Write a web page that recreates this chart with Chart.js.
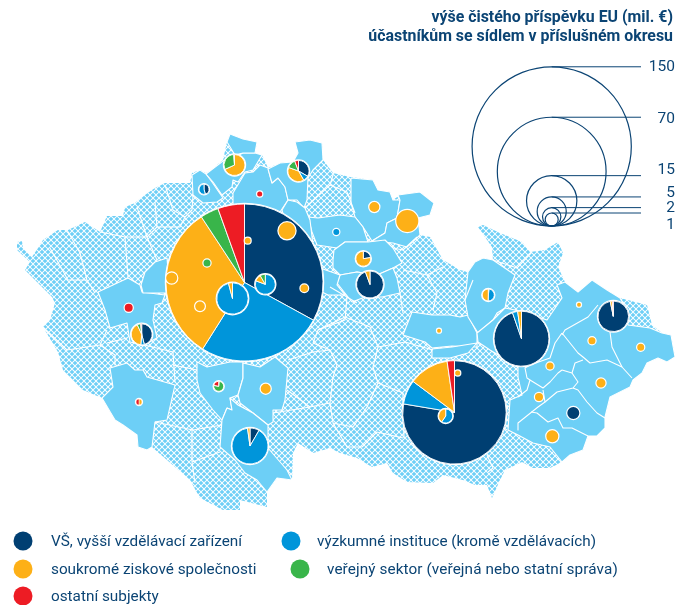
<!DOCTYPE html>
<html lang="cs">
<head>
<meta charset="utf-8">
<style>
html,body{margin:0;padding:0;background:#fff;overflow:hidden}
#wrap{position:relative;width:692px;height:605px;overflow:hidden}
canvas{position:absolute;left:0;top:0}
.t{position:absolute;white-space:nowrap;color:#0b4474;font-family:Roboto,sans-serif;line-height:20px}
.h{font-weight:700;font-size:15.9px;right:19px}
.s{font-size:15.5px;right:17px;text-align:right}
.l{font-size:15.3px}
</style>
</head>
<body>
<div id="wrap">
<canvas id="c" width="692" height="605"></canvas>
<div class="t h" style="top:7px">výše čistého příspěvku EU (mil. €)</div>
<div class="t h" style="top:26px">účastníkům se sídlem v příslušném okresu</div>
<div class="t s" style="top:56px">150</div>
<div class="t s" style="top:108px">70</div>
<div class="t s" style="top:159px">15</div>
<div class="t s" style="top:182px">5</div>
<div class="t s" style="top:197px">2</div>
<div class="t s" style="top:214px">1</div>
<div class="t l" style="left:51px;top:531px">VŠ, vyšší vzdělávací zařízení</div>
<div class="t l" style="left:317px;top:531px">výzkumné instituce (kromě vzdělávacích)</div>
<div class="t l" style="left:51px;top:559px">soukromé ziskové společnosti</div>
<div class="t l" style="left:327px;top:559px;letter-spacing:.1px">veřejný sektor (veřejná nebo statní správa)</div>
<div class="t l" style="left:51px;top:586px">ostatní subjekty</div>
</div>
<script src="https://cdn.jsdelivr.net/npm/chart.js@4"></script>
<script>
// ---- categories ----
const categories = ["VŠ, vyšší vzdělávací zařízení","výzkumné instituce (kromě vzdělávacích)","soukromé ziskové společnosti","veřejný sektor (veřejná nebo statní správa)","ostatní subjekty"];
const categoryColors = ["#003f72","#0095da","#fdb017","#39b54a","#ed1c24"];
// ---- pies: location on the map + value of each category (mil. €) ----
const pieX = [244.5,454.5,521.5,250,232.5,613.3,370,407.3,234.5,298.5,141.7,265.3,287,363.3,445.7,488.3,573.3,552.3,171.7,200,204,374.3,601,539,128.7,218.7,265.7,207,304.3,592,640.7,550,336.3,139,247.7,259.7,457.7,439,579];
const pieY = [282.5,412.4,338.7,446,298.5,316.3,284.5,221,165,171,334.3,284.3,230.8,258.7,416,295,413,436.3,278,306.3,189.3,207,383,397,307.7,386.3,388.7,263,288.3,340.7,347.3,366,232,402,240.7,194,373,330.7,304.7];
const valVS = [48.1,49.1,16.9,0.64,0,5.36,4.07,0,0,0.87,1.2,0,0,0.30,0,0.02,0.85,0,0,0,0.27,0,0,0,0,0,0,0,0,0,0,0,0,0,0,0,0,0,0];
const valVI = [37.9,4.8,0.55,6.86,5.59,0,0,0,0,0.22,0.14,1.91,0,0,0.69,0.41,0,0,0,0,0.32,0,0,0,0,0,0,0,0,0,0,0,0.21,0,0,0,0,0,0];
const valSK = [46.4,7.9,0.40,0.17,0.24,0.12,0.24,2.86,1.78,1.01,1.09,0.26,1.71,1.03,0.47,0.42,0,0.85,0.72,0.55,0,0.59,0.48,0.38,0,0.01,0.59,0,0.34,0.29,0.29,0.29,0,0.105,0.2,0,0.15,0.09,0.09];
const valVE = [5.5,0,0,0,0,0,0,0,0.80,0.36,0.14,0.20,0,0,0,0,0,0,0,0,0,0,0,0,0,0.45,0,0.29,0,0,0,0,0,0,0,0,0,0,0];
const valOS = [8.0,1.45,0,0,0,0.06,0,0,0.03,0.15,0.04,0,0,0,0,0,0,0,0,0,0,0,0,0,0.38,0.13,0,0,0,0,0,0,0,0.105,0,0.15,0,0,0];
// ---- size legend ----
const sizeValues = [150,70,15,5,2,1];
const sizeKey = 6.5; // radius per sqrt(mil. €)
const sizeKeyX = 551.7, sizeKeyBottom = 226;
const legendDotX = [23,291,23,300,23], legendDotY = [541,541,569,569,596];
// ---- map geometry ----
const country = [[17,250],[17,242],[22,241],[23,248],[32,257],[38,248],[43,240],[58,230],[68,230],[85,222],[100,232],[107,216],[123,216],[125,207],[135,203],[142,197],[155,188],[165,183],[190,183],[192,173],[200,170],[207,173],[223,160],[227,142],[230,134],[243,140],[257,142],[255,153],[262,155],[268,168],[280,163],[293,162],[298,153],[295,142],[310,140],[322,143],[323,160],[333,173],[350,177],[373,180],[378,190],[390,192],[393,200],[400,195],[420,192],[434,203],[430,215],[418,218],[420,235],[430,237],[443,260],[460,270],[468,272],[475,262],[483,258],[493,260],[492,247],[478,227],[483,225],[500,233],[522,242],[530,252],[545,250],[558,242],[563,253],[558,267],[565,282],[578,292],[592,280],[607,290],[620,298],[647,305],[652,325],[662,333],[671,335],[675,357],[667,362],[658,358],[647,363],[642,373],[633,380],[630,387],[610,397],[605,417],[605,428],[597,436],[588,436],[583,450],[570,455],[562,462],[550,468],[533,468],[522,462],[505,470],[500,480],[492,498],[487,485],[475,485],[463,480],[443,475],[433,483],[407,482],[393,473],[387,463],[372,467],[357,458],[340,453],[330,448],[313,453],[298,443],[293,453],[292,480],[277,478],[267,492],[267,507],[240,500],[240,510],[223,510],[200,498],[190,480],[152,447],[147,450],[138,447],[137,435],[123,425],[115,420],[102,398],[83,390],[63,370],[58,352],[43,327],[50,320],[55,303],[52,297],[25,270],[30,262]];
const solidRegions = [
 [[98,292],[128,278],[140,285],[142,292],[165,295],[162,303],[155,305],[153,320],[157,338],[143,345],[130,342],[127,323],[110,328],[105,310]],
 [[141,285],[145,272],[155,262],[167,258],[170,293],[143,293]],
 [[102,398],[113,387],[110,368],[127,363],[135,370],[143,370],[147,377],[175,385],[167,420],[155,422],[152,447],[147,450],[138,447],[137,435],[123,425],[115,420]],
 [[197,362],[207,367],[230,362],[243,362],[243,378],[238,395],[230,398],[232,410],[227,408],[222,420],[213,410],[200,393],[197,380]],
 [[243,363],[260,367],[275,357],[288,368],[285,400],[282,410],[273,410],[273,422],[268,425],[253,413],[240,403],[238,395],[243,378]],
 [[227,408],[232,410],[230,398],[238,405],[253,413],[268,425],[268,448],[287,470],[292,480],[277,478],[267,492],[257,480],[245,473],[235,460],[220,447],[222,420]],
 [[192,175],[200,170],[206,174],[212,182],[223,198],[217,202],[203,203],[193,195]],
 [[206,174],[223,161],[235,157],[243,153],[255,153],[262,155],[253,170],[245,172],[238,182],[233,180],[232,187],[222,195],[213,182]],
 [[227,142],[230,134],[243,139],[257,142],[255,153],[243,153],[235,155]],
 [[233,193],[245,173],[253,172],[260,165],[268,168],[272,183],[278,178],[285,187],[288,200],[280,212],[240,212],[233,205]],
 [[268,169],[280,163],[293,162],[298,153],[295,142],[310,140],[322,143],[323,160],[313,170],[308,178],[307,200],[304,208],[297,200],[288,200],[285,187],[278,178],[272,183]],
 [[351,178],[373,180],[378,190],[390,192],[393,200],[400,200],[397,218],[387,223],[385,233],[372,241],[363,227],[355,217],[351,203]],
 [[400,200],[398,195],[420,192],[434,203],[430,215],[418,218],[420,235],[407,247],[393,243],[372,241],[385,233],[387,223],[397,218]],
 [[308,217],[318,218],[340,215],[355,217],[363,227],[368,242],[345,242],[337,248],[317,245],[312,232]],
 [[282,210],[288,200],[297,202],[305,208],[310,220],[313,245],[300,250],[290,240]],
 [[334,250],[345,242],[368,242],[385,240],[393,248],[402,263],[393,268],[377,275],[357,272],[340,275],[333,268],[333,260]],
 [[340,275],[357,272],[377,275],[393,268],[397,278],[400,293],[382,297],[365,297],[352,302],[337,283]],
 [[320,268],[340,275],[337,285],[345,295],[328,295],[318,290]],
 [[403,335],[412,312],[432,315],[450,315],[460,317],[468,315],[477,333],[477,347],[452,346],[432,348],[425,342]],
 [[432,349],[452,347],[477,343],[468,353],[450,358],[432,358]],
 [[465,300],[468,272],[475,262],[483,258],[493,260],[515,275],[508,293],[505,308],[497,313],[493,320],[478,333],[468,317]],
 [[477,333],[493,320],[505,308],[515,310],[547,320],[562,298],[557,285],[565,282],[578,292],[592,280],[607,290],[620,298],[625,307],[628,325],[650,328],[662,333],[671,335],[675,357],[667,362],[658,358],[647,363],[642,373],[633,380],[630,387],[610,397],[605,417],[605,428],[597,436],[588,436],[583,450],[570,455],[562,462],[550,447],[533,443],[518,435],[508,430],[510,400],[522,395],[518,377],[518,367],[490,350],[478,342]]
];
const borderLines = [
 [[598,305],[588,317],[565,330],[562,335]],
 [[562,333],[578,353],[583,357],[590,363],[607,360],[622,367],[632,378]],
 [[610,332],[612,347],[622,367]],
 [[572,373],[575,363],[583,360]],
 [[572,373],[578,382],[573,388],[557,392],[545,402]],
 [[573,388],[578,390],[587,402],[597,413],[605,418]],
 [[562,370],[558,373],[550,382],[543,388],[530,380],[527,390],[518,397]],
 [[562,370],[572,373]],
 [[543,390],[545,402],[538,407],[518,423],[518,430]],
 [[531,412],[537,413],[548,422],[558,418],[563,428],[572,428],[588,436]],
 [[562,333],[555,343],[550,358],[530,365],[525,368],[527,378],[530,380]],
 [[67,230],[80,253],[87,280],[95,293]],
 [[50,248],[68,280],[87,280]],
 [[100,232],[125,237],[128,277]],
 [[125,237],[147,237],[157,227],[155,202]],
 [[157,227],[180,227],[185,217],[192,210],[193,195]],
 [[165,185],[173,210],[185,217]],
 [[137,207],[147,237],[157,260]],
 [[43,327],[67,350],[100,345],[107,330]],
 [[100,345],[115,355],[115,365]],
 [[107,343],[127,338]],
 [[132,342],[173,352],[175,382]],
 [[173,365],[197,370]],
 [[155,422],[193,430],[222,425]],
 [[192,462],[220,452]],
 [[192,430],[192,462],[195,483]],
 [[313,343],[330,350],[337,365],[333,377],[330,403],[333,423],[353,427],[367,407],[378,383],[373,367],[378,347],[370,327],[345,317],[318,330],[313,343]],
 [[288,360],[313,352],[330,350]],
 [[287,390],[310,407],[330,403]],
 [[273,413],[310,407]],
 [[333,423],[347,447],[362,447],[377,432],[403,438]],
 [[378,383],[403,393],[403,402],[404,438]],
 [[378,347],[405,342],[433,350]],
 [[333,175],[330,185],[305,208]],
 [[330,185],[347,192],[355,213]],
 [[393,248],[403,250],[417,237]],
 [[403,270],[427,275],[443,267]],
 [[427,275],[437,293],[433,310]],
 [[400,293],[403,313]],
 [[330,287],[347,297],[357,303]],
 [[347,297],[345,320],[318,330]],
 [[493,260],[517,268],[532,252]],
 [[473,280],[465,300]],
 [[487,455],[493,468],[488,472]],
 [[508,405],[500,425],[507,430]]
];

// ---- helpers ----
const mapColor = "#6dcff6";
function hatch(){
  const c = document.createElement("canvas"); c.width = 6; c.height = 6;
  const g = c.getContext("2d");
  g.fillStyle = "#fff"; g.fillRect(0,0,6,6);
  g.fillStyle = mapColor;
  const diamond=(x,y,r)=>{g.beginPath();g.moveTo(x-r,y);g.lineTo(x,y-r);g.lineTo(x+r,y);g.lineTo(x,y+r);g.closePath();g.fill();};
  [[3,3],[0,0],[6,0],[0,6],[6,6]].forEach(p=>diamond(p[0],p[1],2.35));
  return g.createPattern(c,"repeat");
}
const pts = a => a.map(p=>({x:p[0],y:p[1]}));
const closed = a => pts(a.concat([a[0]]));
const base = {showLine:true,pointRadius:0,pointHoverRadius:0,tension:0,clip:false,borderColor:"#fff",borderWidth:1.1,borderJoinStyle:"round"};
const datasets = [];
datasets.push(Object.assign({},base,{label:"okresy bez příspěvku",data:closed(country),fill:"shape",backgroundColor:hatch(),borderWidth:0}));
solidRegions.forEach(r=>datasets.push(Object.assign({},base,{label:"okres",data:closed(r),fill:"shape",backgroundColor:mapColor})));
borderLines.forEach(l=>datasets.push(Object.assign({},base,{label:"hranice",data:pts(l),fill:false})));

// Pie plugin: each slice is a Chart.js ArcElement placed through the chart's scales
const piePlugin = {
  id:"districtPies",
  afterDatasetsDraw(chart){
    const Arc = Chart.registry.getElement("arc");
    const ctx = chart.ctx, xs = chart.scales.x, ys = chart.scales.y;
    const unit = xs.getPixelForValue(1)-xs.getPixelForValue(0);
    const series = [valVS,valVI,valSK,valVE,valOS];
    const TAU = Math.PI*2;
    const opt = (bg,bc,bw)=>({backgroundColor:bg,borderColor:bc,borderWidth:bw,borderAlign:"center",borderJoinStyle:"round",borderRadius:0,offset:0,spacing:0,circular:true});
    pieX.forEach((px,i)=>{
      const vals = series.map(s=>s[i]);
      const total = vals.reduce((a,b)=>a+b,0);
      const R = sizeKey*Math.sqrt(total)*unit;
      const x = xs.getPixelForValue(px), y = ys.getPixelForValue(pieY[i]);
      const arc=(a0,a1,r,o)=>new Arc({x,y,startAngle:a0,endAngle:a1,circumference:a1-a0,innerRadius:0,outerRadius:r,fullCircles:0,options:o}).draw(ctx);
      arc(-Math.PI/2,-Math.PI/2+TAU,R+1.2,opt("#fff","#fff",0));
      let a = -Math.PI/2;
      vals.forEach((v,k)=>{
        if(!v) return;
        const d = v/total*TAU;
        arc(a,a+d,R,opt(categoryColors[k],"#fff",d>=TAU-1e-6?0:(R>3.5?0.9:0.5)));
        a += d;
      });
    });
  }
};

// size legend: bubbles + leader lines
sizeValues.forEach(v=>{
  const r = sizeKey*Math.sqrt(v);
  const top = sizeKeyBottom-2*r;
  datasets.push({type:"bubble",label:String(v),data:[{x:sizeKeyX,y:sizeKeyBottom-r,r:r}],backgroundColor:"rgba(0,0,0,0)",borderColor:"#0b4474",borderWidth:1.2,clip:false,hoverRadius:0});
  datasets.push(Object.assign({},base,{label:v+" linka",data:[{x:sizeKeyX,y:top},{x:641,y:top}],borderColor:"#0b4474",borderWidth:1,fill:false}));
});
categories.forEach((c,i)=>{
  datasets.push({label:c,data:[{x:legendDotX[i],y:legendDotY[i]}],showLine:false,pointRadius:9.5,pointBackgroundColor:categoryColors[i],pointBorderWidth:0,pointHoverRadius:9.5,clip:false});
});
// earlier datasets are painted first
datasets.forEach((d,i)=>{d.order = datasets.length-i;});

new Chart(document.getElementById("c"),{
  type:"scatter",
  data:{datasets},
  options:{
    responsive:false,animation:false,events:[],
    layout:{padding:0,autoPadding:false},
    plugins:{legend:{display:false},tooltip:{enabled:false},title:{display:false}},
    scales:{
      x:{type:"linear",min:0,max:692,display:false},
      y:{type:"linear",min:0,max:605,reverse:true,display:false}
    }
  },
  plugins:[piePlugin]
});
</script>
</body>
</html>
